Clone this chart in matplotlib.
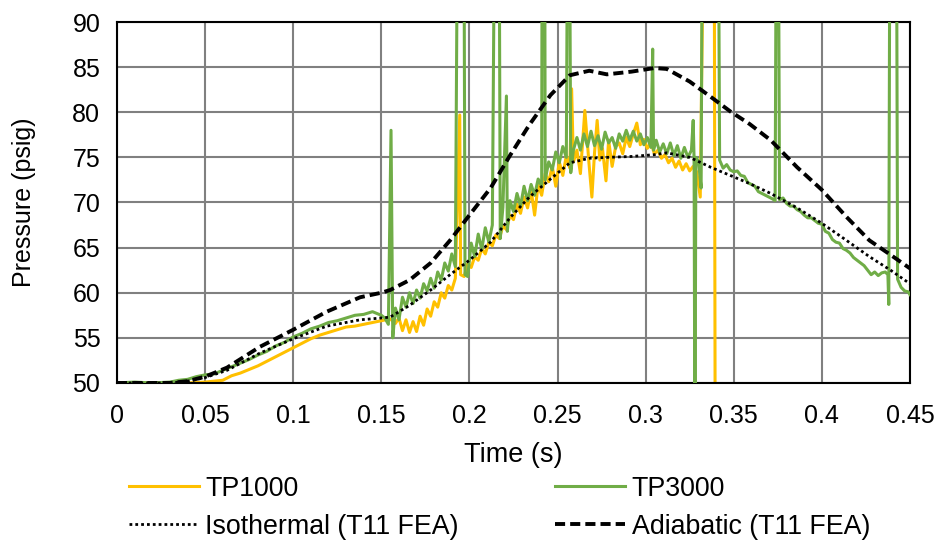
import numpy as np
import matplotlib
matplotlib.use("Agg")
import matplotlib.pyplot as plt

# Pressure traces (psig vs s). Values above 90 / below 50
# are the off-scale spikes, they get clipped by the axes.
tp1000_t = [0.000, 0.040, 0.050, 0.055, 0.060, 0.065, 0.070, 0.075, 0.080, 0.085,
            0.090, 0.095, 0.100, 0.105, 0.110, 0.115, 0.120, 0.125, 0.130, 0.135,
            0.140, 0.145, 0.150, 0.155, 0.158, 0.160, 0.162, 0.164, 0.166, 0.168,
            0.170, 0.172, 0.174, 0.176, 0.178, 0.180, 0.182, 0.184, 0.186, 0.188,
            0.190, 0.192, 0.1945, 0.195, 0.197, 0.199, 0.201, 0.203, 0.205, 0.207,
            0.209, 0.211, 0.213, 0.215, 0.217, 0.219, 0.221, 0.223, 0.225, 0.227,
            0.229, 0.231, 0.233, 0.235, 0.237, 0.239, 0.241, 0.243, 0.245, 0.247,
            0.249, 0.251, 0.253, 0.255, 0.257, 0.258, 0.259, 0.261, 0.263, 0.2655,
            0.268, 0.2695, 0.271, 0.2725, 0.274, 0.2755, 0.2775, 0.279, 0.281, 0.283,
            0.285, 0.287, 0.289, 0.291, 0.293, 0.295, 0.297, 0.299, 0.301, 0.303,
            0.305, 0.307, 0.309, 0.311, 0.313, 0.315, 0.317, 0.319, 0.321, 0.323,
            0.325, 0.327, 0.329, 0.331, 0.3325, 0.339, 0.3395]
tp1000_p = [50.0, 50.0, 50.1, 50.2, 50.3, 50.8, 51.1, 51.5, 51.9, 52.4,
            52.9, 53.4, 53.9, 54.4, 54.9, 55.3, 55.6, 55.9, 56.2, 56.3,
            56.5, 56.7, 56.9, 57.1, 56.6, 57.2, 55.8, 57.0, 55.6, 56.8,
            55.7, 57.4, 56.4, 58.2, 57.4, 59.0, 58.4, 60.0, 59.4, 60.8,
            60.3, 61.6, 79.7, 62.0, 61.8, 63.2, 62.8, 64.0, 63.6, 64.9,
            64.3, 65.6, 65.2, 66.4, 66.0, 67.4, 67.0, 68.6, 68.1, 69.8,
            68.8, 70.6, 69.4, 71.4, 68.6, 72.0, 70.8, 73.2, 72.3, 74.0,
            71.8, 74.5, 73.0, 75.2, 73.8, 82.6, 74.5, 75.8, 73.2, 80.2,
            74.0, 70.6, 75.5, 79.1, 74.7, 76.0, 72.4, 76.9, 74.0, 76.2,
            76.6, 75.4, 77.2, 76.2, 77.6, 78.8, 76.4, 77.0, 76.0, 76.6,
            75.4, 75.8, 74.9, 75.3, 74.4, 74.9, 73.9, 74.6, 73.6, 74.3,
            73.5, 74.0, 73.4, 70.6, 95.0, 95.0, 40.0]

tp3000_t = [0.000, 0.010, 0.020, 0.030, 0.035, 0.040, 0.045, 0.050, 0.055, 0.060,
            0.065, 0.070, 0.075, 0.080, 0.085, 0.090, 0.095, 0.100, 0.105, 0.110,
            0.115, 0.120, 0.125, 0.130, 0.135, 0.140, 0.145, 0.150, 0.152, 0.154,
            0.1555, 0.1565, 0.158, 0.160, 0.162, 0.164, 0.166, 0.168, 0.170, 0.172,
            0.174, 0.176, 0.178, 0.180, 0.182, 0.184, 0.186, 0.188, 0.190, 0.192,
            0.193, 0.197, 0.1975, 0.199, 0.201, 0.203, 0.205, 0.207, 0.209, 0.211,
            0.213, 0.214, 0.217, 0.2175, 0.219, 0.221, 0.2215, 0.223, 0.225, 0.227,
            0.229, 0.231, 0.233, 0.235, 0.237, 0.239, 0.241, 0.2412, 0.2428, 0.243,
            0.245, 0.247, 0.249, 0.251, 0.253, 0.255, 0.2555, 0.257, 0.2575, 0.259,
            0.261, 0.263, 0.265, 0.267, 0.269, 0.271, 0.273, 0.275, 0.277, 0.279,
            0.281, 0.283, 0.285, 0.287, 0.289, 0.291, 0.293, 0.295, 0.297, 0.299,
            0.301, 0.303, 0.304, 0.3045, 0.306, 0.308, 0.310, 0.312, 0.314, 0.316,
            0.318, 0.320, 0.322, 0.324, 0.326, 0.327, 0.3275, 0.328, 0.3285, 0.330,
            0.3315, 0.332, 0.3415, 0.342, 0.344, 0.346, 0.348, 0.350, 0.352, 0.354,
            0.356, 0.358, 0.360, 0.362, 0.364, 0.366, 0.368, 0.370, 0.372, 0.3735,
            0.374, 0.3755, 0.376, 0.378, 0.380, 0.382, 0.384, 0.386, 0.388, 0.390,
            0.392, 0.394, 0.396, 0.398, 0.400, 0.402, 0.404, 0.406, 0.408, 0.410,
            0.412, 0.414, 0.416, 0.418, 0.420, 0.422, 0.424, 0.426, 0.428, 0.430,
            0.432, 0.434, 0.436, 0.4375, 0.438, 0.4385, 0.4425, 0.443, 0.445, 0.447,
            0.449, 0.450]
tp3000_p = [50.0, 50.1, 50.0, 50.1, 50.3, 50.4, 50.7, 50.9, 51.0, 51.4,
            51.8, 52.2, 52.6, 53.1, 53.5, 54.1, 54.5, 55.1, 55.5, 56.0,
            56.3, 56.7, 56.9, 57.2, 57.5, 57.6, 57.9, 57.5, 57.2, 56.5,
            78.0, 55.0, 58.3, 57.0, 59.5, 58.4, 60.0, 58.8, 60.3, 59.4,
            61.0, 60.2, 61.6, 60.5, 62.3, 61.4, 63.3, 62.4, 64.3, 62.9,
            95.0, 95.0, 62.0, 61.8, 65.5, 64.0, 66.5, 64.8, 67.2, 65.6,
            67.5, 95.0, 95.0, 66.0, 69.5, 81.8, 66.8, 70.2, 69.0, 71.0,
            69.6, 71.8, 70.2, 72.0, 70.8, 72.6, 71.8, 95.0, 95.0, 72.5,
            74.5, 73.6, 75.6, 74.4, 76.2, 75.0, 95.0, 95.0, 73.3, 75.8,
            77.2, 75.8, 77.6, 76.2, 77.9, 76.3, 77.4, 75.9, 77.8, 76.6,
            77.2, 76.0, 77.6, 76.8, 78.0, 76.9, 77.9, 76.8, 77.6, 76.4,
            77.2, 76.1, 87.0, 75.8, 76.9, 75.6, 76.5, 75.4, 76.6, 75.2,
            76.3, 74.9, 76.1, 75.0, 75.8, 79.1, 74.8, 40.0, 75.0, 74.6,
            71.6, 95.0, 95.0, 74.7, 73.8, 74.2, 73.6, 73.4, 73.5, 73.0,
            72.9, 72.2, 72.0, 71.8, 71.2, 71.0, 70.8, 70.6, 70.4, 70.2,
            95.0, 95.0, 70.3, 70.5, 69.9, 69.6, 69.6, 69.2, 69.0, 68.6,
            68.3, 68.3, 68.0, 67.7, 67.6, 66.8, 66.6, 65.9, 65.6, 65.5,
            64.9, 64.7, 64.4, 63.9, 63.6, 63.3, 63.0, 62.5, 62.0, 62.3,
            61.9, 62.2, 62.3, 62.0, 58.7, 95.0, 95.0, 61.5, 60.6, 60.2,
            60.1, 59.8]

# FEA curves
fea_t = [0.000, 0.030, 0.040, 0.050, 0.0624, 0.081, 0.100, 0.119, 0.138, 0.150,
         0.155, 0.166, 0.178, 0.189, 0.200, 0.212, 0.223, 0.234, 0.246, 0.257,
         0.268, 0.278, 0.292, 0.305, 0.312, 0.325, 0.337, 0.348, 0.359, 0.371,
         0.386, 0.400, 0.414, 0.427, 0.439, 0.450]
iso_p = [50.0, 50.0, 50.2, 50.6, 51.4, 53.3, 54.9, 56.3, 57.0, 57.2,
         57.3, 58.6, 60.3, 62.0, 63.6, 65.6, 68.3, 70.6, 72.6, 74.4,
         74.9, 75.0, 75.1, 75.3, 75.5, 75.0, 73.9, 73.0, 72.1, 71.0,
         69.4, 67.7, 65.8, 64.0, 62.5, 61.0]
adi_p = [50.0, 50.0, 50.2, 50.7, 51.7, 54.0, 55.9, 57.9, 59.5, 60.0,
         60.3, 61.4, 63.3, 65.8, 68.6, 71.6, 75.2, 78.6, 81.9, 84.1,
         84.6, 84.2, 84.5, 84.9, 84.8, 83.4, 81.7, 80.1, 78.7, 76.9,
         73.9, 71.4, 68.4, 65.8, 64.2, 62.7]

x_ticks = [0, 0.05, 0.1, 0.15, 0.2, 0.25, 0.3, 0.35, 0.4, 0.45]
x_tick_labels = ["0", "0.05", "0.1", "0.15", "0.2", "0.25", "0.3", "0.35", "0.4", "0.45"]
y_ticks = [50, 55, 60, 65, 70, 75, 80, 85, 90]

plt.rcParams['font.family'] = ['Liberation Sans', 'DejaVu Sans']

fig = plt.figure(figsize=(9.4, 5.42), dpi=100)
ax = fig.add_axes([0.1245, 0.2934, 0.8435, 0.666])

l1, = ax.plot(tp1000_t, tp1000_p, color='#FFC000', lw=2.2, label='TP1000', zorder=2)
l2, = ax.plot(tp3000_t, tp3000_p, color='#70AD47', lw=2.2, label='TP3000', zorder=3)
l3, = ax.plot(fea_t, iso_p, color='black', lw=2.0, linestyle=(0, (1, 1.1)),
              label='Isothermal (T11 FEA)', zorder=4)
l4, = ax.plot(fea_t, adi_p, color='black', lw=2.8, linestyle=(0, (2.6, 1.3)),
              label='Adiabatic (T11 FEA)', zorder=5)

ax.set_xlim(0, 0.45)
ax.set_ylim(50, 90)
ax.set_xticks(x_ticks)
ax.set_xticklabels(x_tick_labels)
ax.set_yticks(y_ticks)
ax.tick_params(length=0, labelsize=18)
ax.tick_params(axis='x', pad=15)
ax.tick_params(axis='y', pad=12)
ax.grid(True, color='#808080', lw=1.5)
ax.set_axisbelow(True)
for s in ax.spines.values():
    s.set_color('black')
    s.set_linewidth(1.5)

ax.set_xlabel('Time (s)', fontsize=19.5, labelpad=10)
ax.set_ylabel('Pressure (psig)', fontsize=18, labelpad=26)

# column-major fill, so this gives rows TP1000|TP3000 and Isothermal|Adiabatic
fig.legend([l1, l3, l2, l4], [h.get_label() for h in [l1, l3, l2, l4]],
           loc='upper left', bbox_to_anchor=(0.123, 0.147), ncol=2,
           frameon=False, fontsize=19.3, handlelength=2.6, handletextpad=0.25,
           columnspacing=3.6, labelspacing=0.45, borderpad=0)

fig.savefig('out.png', dpi=100)
